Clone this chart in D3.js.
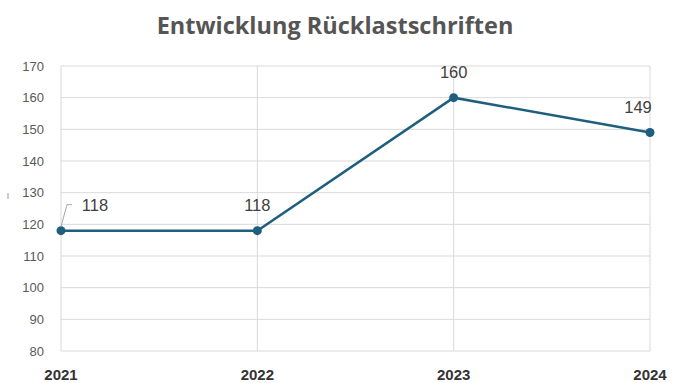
<!DOCTYPE html>
<html>
<head>
<meta charset="utf-8">
<script src="https://cdn.jsdelivr.net/npm/d3@7"></script>
<style>
  body { margin: 0; background: #fff; }
  svg { display: block; }
</style>
</head>
<body>
<script>
// chart data
var years = ["2021", "2022", "2023", "2024"];
var values = [118, 118, 160, 149];
var yTicks = [80, 90, 100, 110, 120, 130, 140, 150, 160, 170];
var title = "Entwicklung Rücklastschriften";

var W = 677, H = 383;
var margin = {top: 66, right: 27, bottom: 32, left: 61},
    width = W - margin.left - margin.right,
    height = H - margin.top - margin.bottom;

var svg = d3.select("body").append("svg")
    .attr("width", W)
    .attr("height", H);

// title
svg.append("text")
    .attr("x", 335)
    .attr("y", 34)
    .attr("text-anchor", "middle")
    .style("font-family", "'Open Sans', sans-serif")
    .style("font-weight", "bold")
    .style("font-size", "23.5px")
    .style("fill", "#555")
    .text(title);

var g = svg.append("g")
    .attr("transform", "translate(" + margin.left + "," + margin.top + ")");

var x = d3.scalePoint().domain(years).range([0, width]);
var y = d3.scaleLinear().domain([80, 170]).range([height, 0]);

// horizontal grid
g.selectAll(".hgrid").data(yTicks).enter().append("line")
    .attr("x1", 0).attr("x2", width)
    .attr("y1", function(d) { return y(d); })
    .attr("y2", function(d) { return y(d); })
    .attr("stroke", "#d9d9d9").attr("stroke-width", 1);

// vertical grid
g.selectAll(".vgrid").data(years).enter().append("line")
    .attr("x1", function(d) { return x(d); })
    .attr("x2", function(d) { return x(d); })
    .attr("y1", 0).attr("y2", height)
    .attr("stroke", "#d9d9d9").attr("stroke-width", 1);

// y axis labels
g.selectAll(".ylab").data(yTicks).enter().append("text")
    .attr("x", -17)
    .attr("y", function(d) { return y(d); })
    .attr("dy", "0.35em")
    .attr("text-anchor", "end")
    .style("font-family", "'Liberation Sans Narrow', 'Liberation Sans', Arial, sans-serif")
    .style("font-size", "13px")
    .style("fill", "#595959")
    .text(function(d) { return d; });

// x axis labels
g.selectAll(".xlab").data(years).enter().append("text")
    .attr("x", function(d) { return x(d); })
    .attr("y", height + 29)
    .attr("text-anchor", "middle")
    .style("font-family", "'Liberation Sans Narrow', 'Liberation Sans', Arial, sans-serif")
    .style("font-weight", "bold")
    .style("font-size", "15px")
    .style("fill", "#333")
    .text(function(d) { return d; });

// small axis title mark
svg.append("line")
    .attr("x1", 8).attr("x2", 8)
    .attr("y1", 193).attr("y2", 199)
    .attr("stroke", "#999").attr("stroke-width", 1);

var data = years.map(function(d, i) { return {year: d, value: values[i]}; });

var line = d3.line()
    .x(function(d) { return x(d.year); })
    .y(function(d) { return y(d.value); });

g.append("path")
    .datum(data)
    .attr("fill", "none")
    .attr("stroke", "#1f5f7e")
    .attr("stroke-width", 2.5)
    .attr("d", line);

g.selectAll(".dot").data(data).enter().append("circle")
    .attr("cx", function(d) { return x(d.year); })
    .attr("cy", function(d) { return y(d.value); })
    .attr("r", 4.5)
    .attr("fill", "#1f5f7e");

// data labels
var labelOffset = [34, 0, 0, -12];
g.selectAll(".dlab").data(data).enter().append("text")
    .attr("x", function(d, i) { return x(d.year) + labelOffset[i]; })
    .attr("y", function(d) { return y(d.value) - 20; })
    .attr("text-anchor", "middle")
    .style("font-family", "'Liberation Sans', Arial, sans-serif")
    .style("font-size", "16.5px")
    .style("fill", "#404040")
    .text(function(d) { return d.value; });

// leader line for the first label
var p0 = data[0];
g.append("path")
    .attr("d", "M" + x(p0.year) + "," + (y(p0.value) - 4) +
               "L" + (x(p0.year) + 6) + "," + (y(p0.value) - 26) +
               "L" + (x(p0.year) + 11) + "," + (y(p0.value) - 26))
    .attr("fill", "none")
    .attr("stroke", "#a6a6a6")
    .attr("stroke-width", 1);
</script>
</body>
</html>
